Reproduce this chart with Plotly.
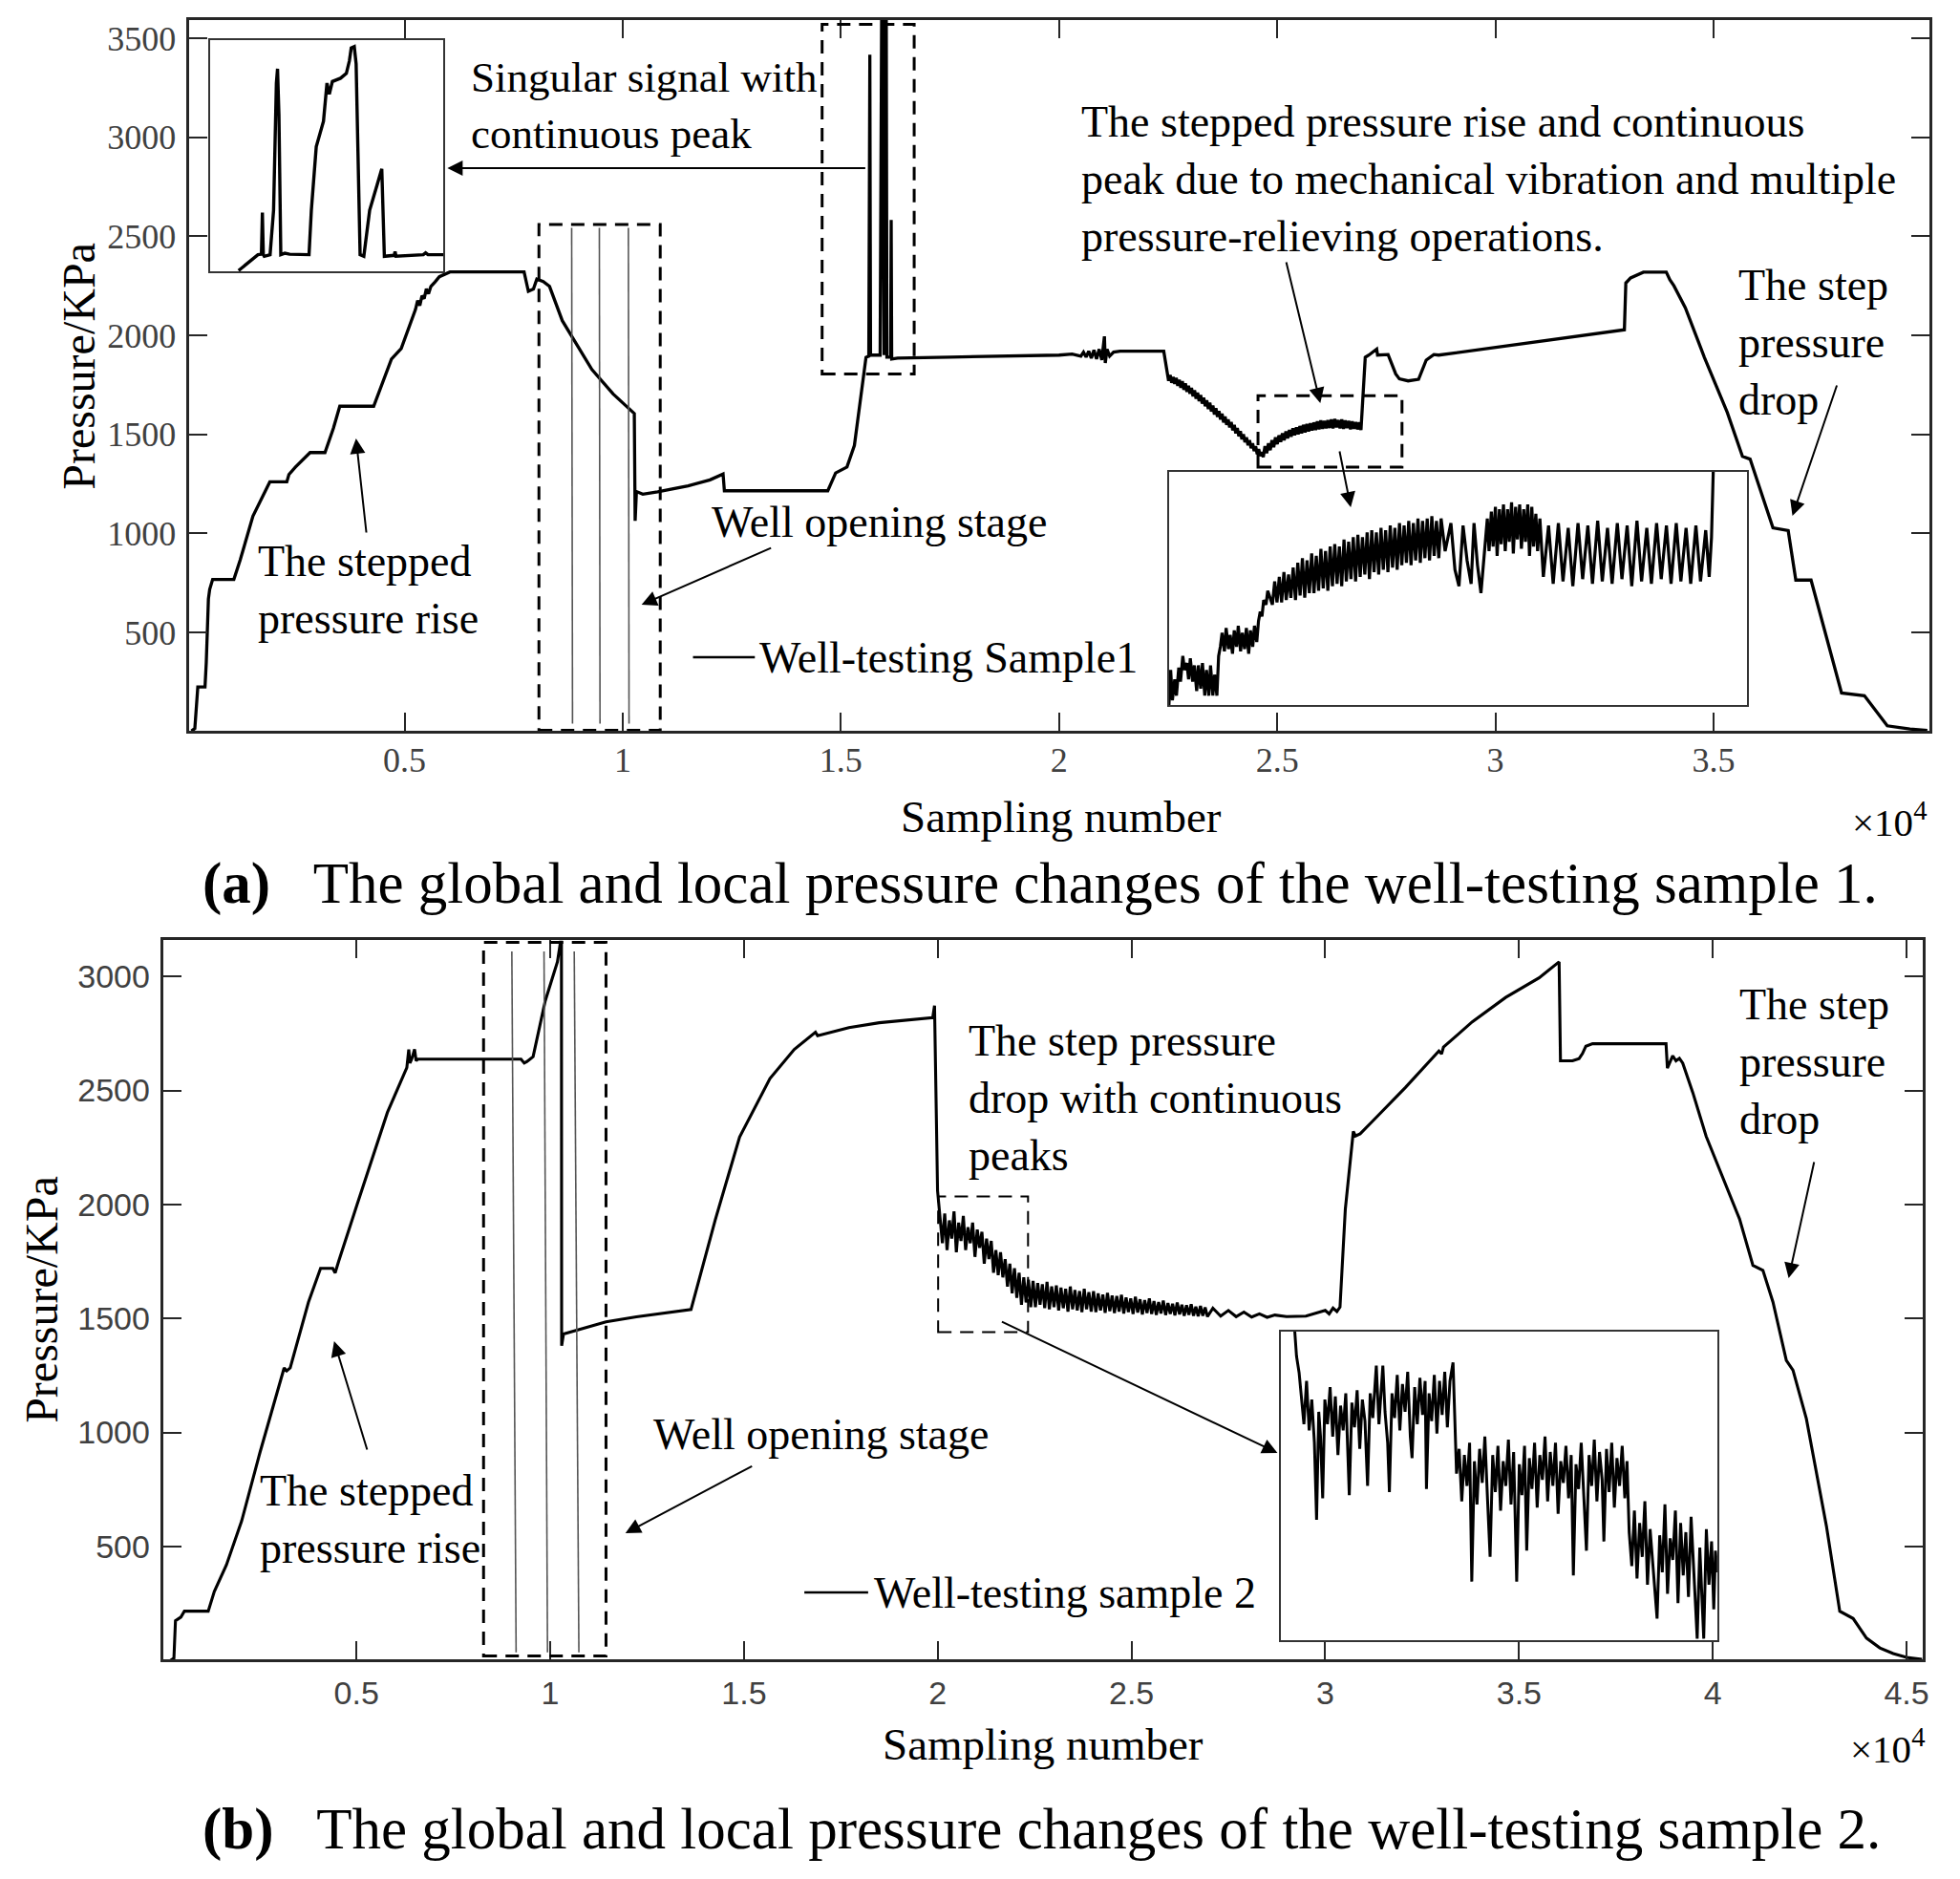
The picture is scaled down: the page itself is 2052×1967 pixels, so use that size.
import plotly.graph_objects as go

W, H = 2052, 1967
SERIF = "Liberation Serif"
SANS = "Liberation Sans"

# ---------------- Sample 1 (panel a) ----------------
s1_head_x = [117, 194, 262, 427, 456, 505, 534, 602, 1088, 1233, 1525, 1913, 2302, 2350, 2496, 2836, 3176,
             3370, 3516, 4293, 4700, 4924, 5250, 5300, 5350, 5400, 5450, 5500, 5550, 5604, 5700, 5798, 6041,
             7740, 7838, 7954, 8032, 8178, 8323, 8615, 9294, 9780, 10266, 10285, 10314, 10460, 10800, 11500,
             12000, 12300, 12330, 13500, 14700, 14880, 15140, 15310, 15490, 15576, 15640, 15664, 15680, 15900,
             15935, 15950, 15990, 16010, 16040, 16055, 16140, 16153, 16165, 16300, 17500, 19000, 20000, 20300,
             20500, 20560, 20620, 20680, 20740, 20800, 20860, 20920, 20980, 21040, 21060, 21100, 21160, 21250,
             21400, 22400]
s1_head_y = [2, 14, 224, 224, 347, 668, 717, 767, 767, 865, 1087, 1260, 1260, 1297, 1334, 1408, 1408,
             1531, 1642, 1642, 1880, 1933, 2130, 2175, 2150, 2200, 2185, 2235, 2210, 2247, 2270, 2296, 2320,
             2320, 2222, 2234, 2284, 2272, 2247, 2074, 1827, 1704, 1605, 1063, 1211, 1198, 1210, 1240,
             1270, 1300, 1215, 1215, 1215, 1305, 1335, 1444, 1750, 1889, 1895, 3417, 1900, 1900,
             3650, 3500, 1900, 3650, 3650, 1890, 1890, 2583, 1880, 1885, 1890, 1895, 1900, 1905,
             1895, 1915, 1890, 1920, 1885, 1925, 1880, 1930, 1875, 1995, 1860, 1930, 1895, 1915,
             1920, 1920]
# noisy decline (start 22476, every 35 samples)
s1_decline_start, s1_decline_step = 22476, 35
s1_decline_y = [1805, 1770, 1800, 1760, 1790, 1755, 1785, 1745, 1775, 1735, 1768, 1725, 1757, 1715, 1745, 1705,
                1735, 1692, 1722, 1680, 1710, 1668, 1698, 1655, 1685, 1642, 1672, 1628, 1660, 1615, 1645, 1600,
                1632, 1588, 1618, 1575, 1605, 1560, 1590, 1548, 1575, 1535, 1562, 1520, 1548, 1505, 1532, 1490,
                1516, 1475, 1500, 1460, 1485, 1445, 1470, 1430, 1455, 1415, 1440, 1400, 1425, 1390, 1410, 1385]
# noisy plateau (start 24720, every 40 samples)
s1_plateau_start, s1_plateau_step = 24720, 40
s1_plateau_y = [1440, 1405, 1455, 1420, 1470, 1435, 1485, 1450, 1495, 1462, 1505, 1470, 1515, 1480, 1522, 1488,
                1530, 1495, 1535, 1500, 1542, 1505, 1548, 1510, 1552, 1515, 1556, 1520, 1560, 1522, 1565, 1525,
                1570, 1528, 1568, 1530, 1572, 1532, 1575, 1530, 1578, 1535, 1572, 1530, 1575, 1528, 1570, 1532,
                1568, 1525, 1565, 1528, 1562, 1525, 1560, 1522]
s1_tail_x = [27018, 27100, 27280, 27300, 27541, 27716, 27800, 28000, 28240, 28415, 28590, 28700, 32957, 32990,
             33100, 33393, 33917, 34000, 34092, 34354, 34790, 35314, 35663, 35838, 36362, 36711, 36886, 37235,
             37934, 38458, 38982, 39500, 39900]
s1_tail_y = [1889, 1900, 1930, 1900, 1903, 1805, 1780, 1770, 1778, 1875, 1903, 1900, 2028, 2264,
             2290, 2319, 2319, 2280, 2250, 2139, 1889, 1611, 1389, 1375, 1028, 1014, 764, 764,
             194, 180, 28, 12, 5]

# well-opening gray spikes (panel a)
open1_x_top = [8830, 9465, 10130]
open1_x_bot = [8850, 9480, 10145]
open1_y_top = 2543
open1_y_bot = 39

# inset 1 (zoom of the singular peak) - relative units
in1_x = [12.1, 16.3, 20.4, 21.9, 22.3, 22.7, 23.1, 25.6, 27.1, 28.3, 28.8, 29.4, 30.2, 31.9, 34.0,
         42.3, 43.3, 45.4, 48.5, 50.0, 51.0, 52.3, 55.8, 58.3, 59.6, 60.4, 61.7, 62.5, 63.5, 64.2,
         65.8, 68.3, 71.5, 73.5, 74.6, 78.8, 79.2, 79.6, 91.3, 92.3, 93.3, 100]
in1_y = [0.3, 3.7, 7.2, 7.4, 25.4, 7.2, 6.5, 7.2, 26.4, 81.4, 87.6, 67.7, 7.2, 7.8, 7.4,
         7.2, 26.4, 53.9, 64.9, 81.4, 76.6, 82.1, 83.5, 85.6, 91.0, 96.6, 97.2, 89.7, 40.2, 7.2,
         6.5, 26.4, 37.4, 44.3, 6.5, 6.9, 8.5, 6.5, 7.2, 8.0, 7.2, 7.2]

# inset 2 (zoom of the vibration region) - relative units
in2_x = [0, 0.3, 0.6, 1.0, 1.3, 1.7, 2.0, 2.4, 2.7, 3.1, 3.4, 3.7, 4.1, 4.4, 4.8, 5.1, 5.5, 5.8, 6.2,
         6.5, 6.9, 7.2, 7.6, 7.9, 8.3, 8.6,
         8.9, 9.2, 9.6, 9.9, 10.3, 10.6, 11.0, 11.3, 11.7, 12.0, 12.4, 12.7, 13.1, 13.4, 13.8, 14.1,
         14.5, 14.8, 15.2, 15.5,
         15.8, 16.1, 16.4, 16.8, 17.1, 17.5,
         17.9, 18.3, 18.7, 19.1, 19.5, 19.9, 20.3, 20.7, 21.1, 21.5, 21.9, 22.3, 22.7, 23.1, 23.5, 23.9,
         24.3, 24.7, 25.1, 25.5, 25.9, 26.3, 26.7, 27.1, 27.5, 27.9, 28.3, 28.7, 29.1, 29.5, 29.9, 30.3,
         30.7, 31.1, 31.5, 31.9, 32.3, 32.7, 33.1, 33.5, 33.9, 34.3, 34.7, 35.1, 35.5, 35.9, 36.3, 36.7,
         37.1, 37.5, 37.9, 38.3, 38.7, 39.1, 39.5, 39.9, 40.3, 40.7, 41.1, 41.5, 41.9, 42.3, 42.7, 43.1,
         43.5, 43.9, 44.3, 44.7, 45.1, 45.5, 45.9, 46.3, 46.7, 47.1,
         47.8, 48.8, 49.5, 50.2, 50.9, 51.6, 52.3, 52.8, 53.4, 54.0, 54.6, 55.1,
         55.4, 55.8, 56.1, 56.5, 56.8, 57.2, 57.5, 57.9, 58.2, 58.6, 58.9, 59.3, 59.6, 60.0, 60.3, 60.7,
         61.0, 61.4, 61.7, 62.1, 62.4, 62.8, 63.1, 63.5, 63.8, 64.2,
         64.8, 65.7, 66.5, 67.4, 68.2, 69.1, 69.9, 70.8, 71.6, 72.5, 73.3, 74.2, 75.0, 75.9, 76.7, 77.6,
         78.4, 79.3, 80.1, 81.0, 81.8, 82.7, 83.5, 84.4, 85.2, 86.1, 86.9, 87.8, 88.6, 89.5, 90.3, 91.2,
         92.0, 92.9, 93.5, 93.9, 94.2]
in2_y = [0, 15, 2, 11, 4, 16, 10, 21, 15, 18, 11, 20, 10, 17, 6, 17, 7, 18, 4,
         15, 4, 17, 4, 13, 4, 21,
         25, 31, 23, 33, 24, 30, 22, 32, 25, 34, 23, 31, 24, 33, 22, 32,
         25, 34, 27, 36,
         40, 38, 45, 43, 49, 46,
         43, 53, 44, 55, 44, 57, 45, 56, 46, 59, 45, 61, 47, 63, 46, 62,
         48, 65, 48, 64, 49, 67, 50, 66, 49, 68, 51, 69, 52, 68, 51, 71,
         53, 70, 54, 72, 53, 73, 55, 72, 56, 74, 54, 75, 57, 74, 56, 76,
         58, 75, 57, 77, 59, 76, 58, 78, 60, 77, 61, 79, 60, 78, 62, 80,
         61, 79, 63, 80, 62, 81, 64, 79, 63, 80,
         66, 78, 58, 51, 77, 62, 52, 78, 60, 48, 65, 80,
         66, 83, 68, 85, 64, 84, 69, 86, 66, 84, 70, 87, 65, 85, 71, 86,
         67, 84, 70, 86, 64, 85, 68, 82, 66, 80,
         55, 77, 52, 78, 53, 76, 51, 78, 54, 77, 52, 79, 53, 76, 52, 78,
         54, 77, 51, 79, 53, 76, 52, 78, 54, 77, 52, 78, 53, 76, 52, 77,
         53, 75, 55, 72, 100]

# ---------------- Sample 2 (panel b) ----------------
s2_head_x = [200, 290, 330, 420, 470, 560, 1175, 1332, 1645, 2037, 2507, 3134, 3200, 3291, 3447, 3761, 4074,
             4388, 4450, 4544, 5014, 5798, 6300, 6350, 6380, 6425, 6500, 6540, 6582, 9246, 9330, 9403, 9559,
             9872, 10186, 10264, 10290, 10295, 10342, 11439, 12223, 13633, 14260, 14887, 15670, 16297, 16845,
             16900, 17708, 18491, 19870, 19917, 19995]
s2_head_y = [0, 10, 174, 184, 190, 216, 216, 302, 419, 611, 910, 1283, 1270, 1283, 1379, 1571, 1720,
             1720, 1700, 1752, 1998, 2403, 2600, 2680, 2620, 2637, 2680, 2630, 2637, 2637, 2620, 2627, 2648,
             2893, 3064, 3150, 3150, 1380, 1432, 1485, 1507, 1539, 1933, 2296, 2552, 2680, 2755,
             2740, 2776, 2797, 2819, 2872, 2060]
# noisy step drop (start 20060, every 60 samples)
s2_noise_start, s2_noise_step = 20060, 60
s2_noise_y = [1940, 1830, 1960, 1800, 1930, 1850, 1970, 1790, 1920, 1840, 1950, 1800, 1900, 1830,
              1920, 1770, 1890, 1810, 1880, 1740, 1850, 1760, 1840, 1700, 1800, 1690, 1790, 1680,
              1760, 1640, 1740, 1610, 1720, 1590, 1700, 1560, 1680, 1570, 1670, 1550,
              1665, 1550, 1655, 1560, 1650, 1545, 1660, 1540, 1640, 1550, 1645, 1535, 1635, 1545, 1630, 1530,
              1640, 1540, 1625, 1535, 1620, 1528, 1630, 1540, 1615, 1530, 1620, 1528, 1610, 1535, 1605, 1525,
              1612, 1532, 1600, 1524, 1598, 1530, 1604, 1522, 1592, 1528, 1588, 1520, 1595, 1526, 1584, 1518,
              1580, 1524, 1588, 1520, 1576, 1516, 1572, 1522, 1578, 1515, 1568, 1520, 1564, 1514, 1570, 1518,
              1560, 1512, 1558, 1516, 1562, 1512, 1552, 1510, 1555, 1512, 1548, 1508]
s2_tail_x = [27100, 27300, 27500, 27700, 27900, 28100, 28300, 28500, 28700,
             29000, 29500, 29800, 30000, 30100, 30200, 30300, 30380,
             30517, 30723, 30780, 30900, 31207, 32069, 32931, 33000, 33050, 33793, 34655, 35517, 36034, 36069,
             36380, 36550, 36638, 36724, 36897, 38793, 38828, 38966, 39050, 39138, 39224, 39483, 39828, 40690,
             41035, 41293, 41552, 41897, 42069, 42414, 42931, 43276, 43621, 43966, 44310, 44655, 45000, 45400]
s2_tail_y = [1545, 1510, 1535, 1508, 1528, 1506, 1520, 1505, 1515,
             1508, 1510, 1525, 1535, 1520, 1545, 1530, 1550,
             1979, 2320, 2300, 2310, 2363, 2513, 2673, 2660, 2690, 2801, 2908, 2994, 3064, 2630,
             2630, 2640, 2662, 2694, 2705, 2705, 2598, 2652, 2630, 2641, 2620, 2491, 2299, 1936,
             1733, 1711, 1572, 1316, 1273, 1060, 590, 216, 184, 98, 55, 30, 13, 5]

# well-opening gray spikes (panel b)
open2_x_top = [9010, 9840, 10620]
open2_x_bot = [9120, 9930, 10740]
open2_y_top = 3110
open2_y_bot = 35

# inset 3 (zoom of the step drop with peaks) - relative units
in3_x = [3.1, 3.5, 4.1,
         4.6, 5.2, 5.8, 6.4, 7.0, 7.6, 8.1, 8.6, 9.0, 9.5, 10.0, 10.6, 11.2, 11.8, 12.4, 13.0, 13.6, 14.2,
         14.8, 15.6, 16.2, 16.8, 17.4, 18.0, 18.6, 19.2, 19.8, 20.4, 21.0, 21.8, 22.4, 23.0, 23.3, 23.8,
         24.4, 24.8, 25.4, 26.0, 26.6, 27.2, 27.8, 28.4, 29.0, 29.6, 30.0, 30.6, 31.2, 31.8, 32.4, 33.0,
         33.3, 33.9, 34.5, 35.1, 35.7, 36.3, 36.9, 37.5, 38.1, 38.7, 39.4,
         40.2, 40.8, 41.4, 42.0, 42.6, 43.2, 43.7, 44.3, 44.9, 45.5, 46.1, 46.7, 47.3, 47.9, 48.5, 49.1,
         49.7, 50.3, 50.9, 51.5, 52.1, 52.7, 53.3, 54.0, 54.6, 55.2, 55.8, 56.3, 56.9, 57.5, 58.1, 58.7,
         59.3, 59.9, 60.5, 61.1, 61.7, 62.3, 62.9, 63.5, 64.1, 64.7, 65.3, 65.9, 66.5, 67.0, 67.6, 68.2,
         68.8, 69.4, 70.0, 70.6, 71.2, 71.8, 72.4, 73.0, 73.6, 74.0, 74.6, 75.2, 75.8, 76.4, 77.0, 77.6,
         78.2, 78.8, 79.3,
         79.8, 80.4, 81.0, 81.6, 82.2, 82.8, 83.4, 84.0, 84.6, 85.2, 86.2, 86.8, 87.4, 88.0, 88.6, 89.2,
         89.8, 90.4, 91.0, 91.6, 92.2, 92.8, 93.4, 94.0, 94.6, 95.4, 96.0, 96.9, 97.5, 98.1, 98.7, 99.2,
         99.6, 100]
in3_y = [100, 92, 86.6,
         80, 70, 84, 68, 78, 64, 39, 74, 66, 46, 78, 70, 82, 66, 79, 60, 76, 68,
         80, 47, 77, 69, 81, 62, 78, 71, 50, 80, 72, 89, 70, 85, 89, 74,
         64, 48, 80, 72, 86, 68, 83, 74, 87, 66, 59, 82, 70, 85, 73, 84,
         49, 80, 71, 86, 67, 84, 73, 87, 69, 84, 90,
         54, 62, 45, 60, 50, 64, 19, 58, 44, 62, 51, 66, 46, 27, 60, 48,
         63, 42, 58, 50, 65, 44, 61, 19, 57, 47, 63, 29, 59, 49, 64, 43,
         60, 52, 66, 45, 61, 50, 64, 41, 58, 51, 63, 46, 60, 21, 57, 49,
         64, 44, 29, 60, 50, 65, 45, 61, 52, 32, 62, 48, 64, 43, 59, 50,
         63, 46, 58,
         35, 24, 42, 20, 38, 27, 45, 18, 36, 25, 7, 34, 22, 44, 15, 33,
         26, 42, 12, 38, 21, 35, 14, 40, 23, 0.5, 30, 0.5, 36, 18, 32, 10,
         29, 22]

# tick labels
y1_ticks = [500, 1000, 1500, 2000, 2500, 3000, 3500]
x1_ticks = [5000, 10000, 15000, 20000, 25000, 30000, 35000]
x1_labels = ["0.5", "1", "1.5", "2", "2.5", "3", "3.5"]
y2_ticks = [500, 1000, 1500, 2000, 2500, 3000]
x2_ticks = [5000, 10000, 15000, 20000, 25000, 30000, 35000, 40000, 45000]
x2_labels = ["0.5", "1", "1.5", "2", "2.5", "3", "3.5", "4", "4.5"]

# dashed boxes: (x0, x1, y0, y1)
boxes_a = [(8080, 10860, 5, 2560), (14570, 16680, 1805, 3570), (24560, 27860, 1335, 1695)]
boxes_b = [(8280, 11440, 20, 3150)]
box_b_small = (20010, 22330, 1440, 2035)


def PX(x):
    return x / W


def PY(y):
    return 1 - y / H


def grid(start, step, n):
    return [start + step * i for i in range(n)]


s1_x = s1_head_x + grid(s1_decline_start, s1_decline_step, len(s1_decline_y)) \
    + grid(s1_plateau_start, s1_plateau_step, len(s1_plateau_y)) + s1_tail_x
s1_y = s1_head_y + s1_decline_y + s1_plateau_y + s1_tail_y
s2_x = s2_head_x + grid(s2_noise_start, s2_noise_step, len(s2_noise_y)) + s2_tail_x
s2_y = s2_head_y + s2_noise_y + s2_tail_y

fig = go.Figure()

fig.add_trace(go.Scatter(x=s1_x, y=s1_y, mode="lines", line=dict(color="black", width=3.3),
                         xaxis="x", yaxis="y", showlegend=False))
gx, gy = [], []
for a, b in zip(open1_x_top, open1_x_bot):
    gx += [a, b, None]
    gy += [open1_y_top, open1_y_bot, None]
fig.add_trace(go.Scatter(x=gx, y=gy, mode="lines", line=dict(color="#555555", width=1.6),
                         xaxis="x", yaxis="y", showlegend=False))

fig.add_trace(go.Scatter(x=s2_x, y=s2_y, mode="lines", line=dict(color="black", width=3.1),
                         xaxis="x2", yaxis="y2", showlegend=False))
gx, gy = [], []
for a, b in zip(open2_x_top, open2_x_bot):
    gx += [a, b, None]
    gy += [open2_y_top, open2_y_bot, None]
fig.add_trace(go.Scatter(x=gx, y=gy, mode="lines", line=dict(color="#555555", width=1.6),
                         xaxis="x2", yaxis="y2", showlegend=False))

fig.add_trace(go.Scatter(x=in1_x, y=in1_y, mode="lines", line=dict(color="black", width=3.4),
                         xaxis="x3", yaxis="y3", showlegend=False))
fig.add_trace(go.Scatter(x=in2_x, y=in2_y, mode="lines", line=dict(color="black", width=3.2),
                         xaxis="x4", yaxis="y4", showlegend=False))
fig.add_trace(go.Scatter(x=in3_x, y=in3_y, mode="lines", line=dict(color="black", width=3.0),
                         xaxis="x5", yaxis="y5", showlegend=False))

main_axis = dict(showline=True, linecolor="#262626", linewidth=2.5, mirror="ticks", ticks="inside",
                 ticklen=19, tickwidth=2, tickcolor="#262626", showgrid=False, zeroline=False)
inset_axis = dict(showline=True, linecolor="#333333", linewidth=2, mirror=True, ticks="",
                  showticklabels=False, showgrid=False, zeroline=False, range=[0, 100])

tick_font_a = dict(family=SERIF, size=36, color="#404040")
tick_font_b = dict(family=SANS, size=34, color="#404040")

fig.update_layout(
    width=W, height=H, margin=dict(l=0, r=0, t=0, b=0), autosize=False,
    paper_bgcolor="white", plot_bgcolor="rgba(0,0,0,0)",
    xaxis=dict(domain=[199 / W, 2027 / W], range=[70, 39950], anchor="y", tickvals=x1_ticks,
               ticktext=x1_labels, tickfont=tick_font_a, ticklabelstandoff=-3, **main_axis),
    yaxis=dict(domain=[PY(765), PY(21)], range=[3, 3592], anchor="x", tickvals=y1_ticks,
               tickfont=tick_font_a, ticklabelstandoff=4, **main_axis),
    xaxis2=dict(domain=[172 / W, 2020 / W], range=[27, 45420], anchor="y2", tickvals=x2_ticks,
                ticktext=x2_labels, tickfont=tick_font_b, ticklabelstandoff=3, **main_axis),
    yaxis2=dict(domain=[PY(1737), PY(984)], range=[5, 3160], anchor="x2", tickvals=y2_ticks,
                tickfont=tick_font_b, ticklabelstandoff=5, **main_axis),
    xaxis3=dict(domain=[221 / W, 466 / W], anchor="y3", **inset_axis),
    yaxis3=dict(domain=[PY(284), PY(42)], anchor="x3", **inset_axis),
    xaxis4=dict(domain=[1228 / W, 1835 / W], anchor="y4", **inset_axis),
    yaxis4=dict(domain=[PY(738), PY(494)], anchor="x4", **inset_axis),
    xaxis5=dict(domain=[1346 / W, 1804 / W], anchor="y5", **inset_axis),
    yaxis5=dict(domain=[PY(1717), PY(1394)], anchor="x5", **inset_axis),
)

shapes = []
for (x0, x1, y0, y1) in boxes_a:
    shapes.append(dict(type="rect", xref="x", yref="y", x0=x0, x1=x1, y0=y0, y1=y1,
                       line=dict(color="black", width=3, dash="14px,9px")))
for (x0, x1, y0, y1) in boxes_b:
    shapes.append(dict(type="rect", xref="x2", yref="y2", x0=x0, x1=x1, y0=y0, y1=y1,
                       line=dict(color="black", width=3, dash="14px,9px")))
x0, x1, y0, y1 = box_b_small
shapes.append(dict(type="rect", xref="x2", yref="y2", x0=x0, x1=x1, y0=y0, y1=y1,
                   line=dict(color="black", width=2, dash="14px,9px")))
shapes.append(dict(type="line", xref="paper", yref="paper", x0=PX(728), x1=PX(793), y0=PY(688), y1=PY(688),
                   line=dict(color="black", width=2.5)))
shapes.append(dict(type="line", xref="paper", yref="paper", x0=PX(845), x1=PX(912), y0=PY(1667), y1=PY(1667),
                   line=dict(color="black", width=2.5)))
fig.update_layout(shapes=shapes)

ann = []


def text(x, y, s, size=46, xanchor="left", family=SERIF, angle=0):
    ann.append(dict(x=PX(x), y=PY(y), xref="paper", yref="paper", text=s, showarrow=False,
                    xanchor=xanchor, yanchor="middle", align="left", textangle=angle,
                    font=dict(family=family, size=size, color="black")))


def arrow(tail, tip):
    ann.append(dict(x=PX(tip[0]), y=PY(tip[1]), xref="paper", yref="paper", text="",
                    showarrow=True, ax=tail[0] - tip[0], ay=tail[1] - tip[1], axref="pixel", ayref="pixel",
                    arrowhead=2, arrowsize=1.6, arrowwidth=2, arrowcolor="black", standoff=0))


# panel a texts
text(493, 110, "Singular signal with<br>continuous peak", size=45)
text(1134, 187, "The stepped pressure rise and continuous<br>peak due to mechanical vibration and multiple<br>pressure-relieving operations.")
text(1824, 359, "The step<br>pressure<br>drop")
text(269, 617, "The stepped<br>pressure rise")
text(746, 546, "Well opening stage")
text(796, 688, "Well-testing Sample1")
arrow((909, 176), (470, 176))
arrow((1351, 273), (1387, 422))
arrow((1407, 471), (1419, 531))
arrow((1930, 402), (1883, 540))
arrow((811, 573), (674, 633))
arrow((385, 559), (374, 459))

# panel b texts
text(271, 1590, "The stepped<br>pressure rise")
text(684, 1501, "Well opening stage")
text(916, 1667, "Well-testing sample 2")
text(1015, 1149, "The step pressure<br>drop with continuous<br>peaks")
text(1825, 1111, "The step<br>pressure<br>drop")
arrow((386, 1519), (351, 1404))
arrow((791, 1534), (657, 1605))
arrow((1052, 1383), (1342, 1521))
arrow((1906, 1215), (1879, 1338))

# axis titles
text(1115, 855, "Sampling number", size=47, xanchor="center")
text(1096, 1826, "Sampling number", size=47, xanchor="center")
text(1985, 858, "×10<sup>4</sup>", size=41, xanchor="center")
text(1983, 1828, "×10<sup>4</sup>", size=41, xanchor="center")
text(82, 383, "Pressure/KPa", size=48, xanchor="center", angle=-90)
text(43, 1360, "Pressure/KPa", size=48, xanchor="center", angle=-90)

# captions
text(211, 925, "<b>(a)</b>   The global and local pressure changes of the well-testing sample 1.", size=61)
text(211, 1915, "<b>(b)</b>   The global and local pressure changes of the well-testing sample 2.", size=61)

fig.update_layout(annotations=ann)

fig.write_html("out.html", config={"displayModeBar": False},
               post_script="document.body.style.margin='0';document.body.style.overflow='hidden';")
